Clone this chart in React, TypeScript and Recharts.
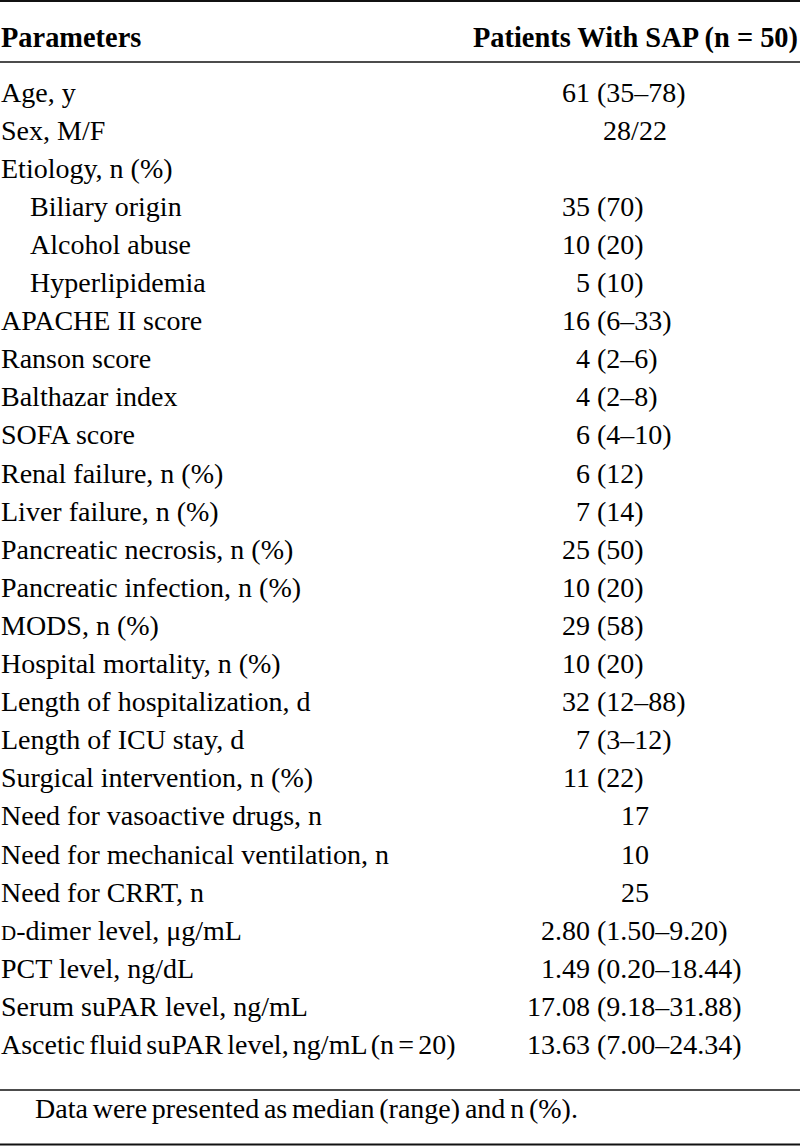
import React from "react";
import { ComposedChart, XAxis, YAxis, Bar, Customized } from "recharts";

const headerLabels = ["Parameters", "Patients With SAP (n = 50)"];

const parameters = [
  "Age, y",
  "Sex, M/F",
  "Etiology, n (%)",
  "Biliary origin",
  "Alcohol abuse",
  "Hyperlipidemia",
  "APACHE II score",
  "Ranson score",
  "Balthazar index",
  "SOFA score",
  "Renal failure, n (%)",
  "Liver failure, n (%)",
  "Pancreatic necrosis, n (%)",
  "Pancreatic infection, n (%)",
  "MODS, n (%)",
  "Hospital mortality, n (%)",
  "Length of hospitalization, d",
  "Length of ICU stay, d",
  "Surgical intervention, n (%)",
  "Need for vasoactive drugs, n",
  "Need for mechanical ventilation, n",
  "Need for CRRT, n",
  "D-dimer level, μg/mL",
  "PCT level, ng/dL",
  "Serum suPAR level, ng/mL",
  "Ascetic fluid suPAR level, ng/mL (n = 20)",
];

const values = [
  "61 (35–78)",
  "28/22",
  "",
  "35 (70)",
  "10 (20)",
  "5 (10)",
  "16 (6–33)",
  "4 (2–6)",
  "4 (2–8)",
  "6 (4–10)",
  "6 (12)",
  "7 (14)",
  "25 (50)",
  "10 (20)",
  "29 (58)",
  "10 (20)",
  "32 (12–88)",
  "7 (3–12)",
  "11 (22)",
  "17",
  "10",
  "25",
  "2.80 (1.50–9.20)",
  "1.49 (0.20–18.44)",
  "17.08 (9.18–31.88)",
  "13.63 (7.00–24.34)",
];

const subRows = ["Biliary origin", "Alcohol abuse", "Hyperlipidemia"];

const footnote = "Data were presented as median (range) and n (%).";

const rows = parameters.map((p, i) => ({ param: p, value: values[i] }));

const FONT = "'Liberation Serif', 'Times New Roman', Times, serif";
const FS = 28;
const PAREN_X = 597;
const CENTER_X = 635;
const SPACE = 7;

const RowTick = (props: any) => {
  const { y, payload } = props;
  const label: string = String(payload?.value ?? "");
  const i = parameters.indexOf(label);
  const val = values[i] || "";
  const by = Number(y) + 9.5;
  const lx = subRows.includes(label) ? 30 : 1;
  const ws = label.length > 36 ? -2.8 : 0;
  let labelNode: React.ReactNode;
  if (label.startsWith("D-")) {
    labelNode = (
      <text x={lx} y={by} fontFamily={FONT} fontSize={FS} fill="#000">
        <tspan fontSize={21}>D</tspan>
        <tspan>{label.slice(1)}</tspan>
      </text>
    );
  } else {
    labelNode = (
      <text x={lx} y={by} fontFamily={FONT} fontSize={FS} fill="#000" wordSpacing={ws}>
        {label}
      </text>
    );
  }
  let valueNode: React.ReactNode = null;
  const k = val.indexOf(" (");
  if (k >= 0) {
    valueNode = (
      <g>
        <text x={PAREN_X - SPACE} y={by} textAnchor="end" fontFamily={FONT} fontSize={FS} fill="#000">
          {val.slice(0, k)}
        </text>
        <text x={PAREN_X} y={by} textAnchor="start" fontFamily={FONT} fontSize={FS} fill="#000">
          {val.slice(k + 1)}
        </text>
      </g>
    );
  } else if (val) {
    valueNode = (
      <text x={CENTER_X} y={by} textAnchor="middle" fontFamily={FONT} fontSize={FS} fill="#000">
        {val}
      </text>
    );
  }
  return (
    <g>
      {labelNode}
      {valueNode}
    </g>
  );
};

const Frame = () => (
  <g>
    <line x1={0} x2={800} y1={1} y2={1} stroke="#111" strokeWidth={2.2} />
    <text x={1} y={47} fontFamily={FONT} fontSize={28.4} fontWeight="bold" fill="#000">
      {headerLabels[0]}
    </text>
    <text x={798} y={47} textAnchor="end" fontFamily={FONT} fontSize={28.4} fontWeight="bold" fill="#000">
      {headerLabels[1]}
    </text>
    <line x1={0} x2={800} y1={62} y2={62} stroke="#111" strokeWidth={1.6} />
    <line x1={0} x2={800} y1={1090} y2={1090} stroke="#111" strokeWidth={1.6} />
    <text x={35} y={1118} fontFamily={FONT} fontSize={FS} fill="#000" wordSpacing={-2.2}>
      {footnote}
    </text>
    <line x1={0} x2={800} y1={1144.5} y2={1144.5} stroke="#111" strokeWidth={2.2} />
  </g>
);

export default function App() {
  return (
    <div style={{ position: "absolute", left: 0, top: 0, width: 800, height: 1147, background: "#fff" }}>
      <ComposedChart
        width={800}
        height={1147}
        layout="vertical"
        data={rows}
        margin={{ top: 73, right: 0, bottom: 83.4, left: 0 }}
      >
        <XAxis type="number" hide domain={[0, 1]} />
        <YAxis
          type="category"
          dataKey="param"
          width={20}
          interval={0}
          axisLine={false}
          tickLine={false}
          tick={(p: any) => <RowTick {...p} />}
        />
        <Bar dataKey="bar" fill="transparent" isAnimationActive={false} />
        <Customized component={Frame} />
      </ComposedChart>
    </div>
  );
}
